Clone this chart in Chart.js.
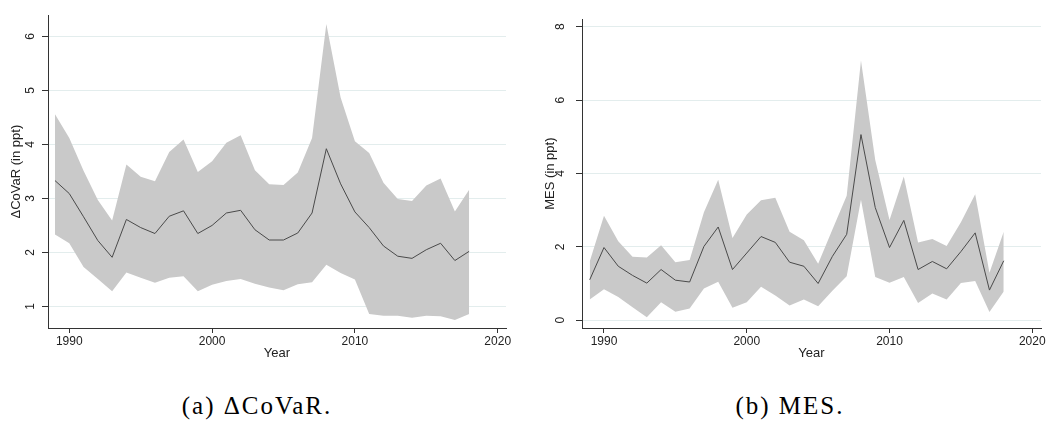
<!DOCTYPE html>
<html><head><meta charset="utf-8">
<script src="https://cdn.jsdelivr.net/npm/chart.js@4/dist/chart.umd.min.js"></script>
<style>
html,body{margin:0;padding:0;background:#fff;width:1047px;height:424px;overflow:hidden;position:relative;}
canvas{position:absolute;top:0;}
.cap{position:absolute;top:393px;width:300px;text-align:center;font-family:"Liberation Serif","DejaVu Serif",serif;font-size:25px;line-height:25px;letter-spacing:2px;white-space:nowrap;color:#000;}
</style></head><body>
<canvas id="a" width="523" height="365" style="left:0px"></canvas>
<canvas id="b" width="513" height="365" style="left:534px"></canvas>
<div class="cap" style="left:107px">(a) ΔCoVaR.</div>
<div class="cap" style="left:640px">(b) MES.</div>
<script>
const years = [1989,1990,1991,1992,1993,1994,1995,1996,1997,1998,1999,2000,2001,2002,2003,2004,2005,2006,2007,2008,2009,2010,2011,2012,2013,2014,2015,2016,2017,2018];

const covarMid   = [3.33,3.09,2.66,2.22,1.91,2.61,2.46,2.35,2.67,2.77,2.35,2.50,2.73,2.78,2.42,2.23,2.23,2.36,2.73,3.92,3.27,2.75,2.46,2.12,1.93,1.89,2.05,2.17,1.85,2.02];
const covarUpper = [4.56,4.12,3.51,2.97,2.59,3.63,3.40,3.32,3.86,4.09,3.49,3.69,4.03,4.17,3.52,3.26,3.25,3.48,4.12,6.23,4.87,4.06,3.84,3.29,2.99,2.95,3.24,3.37,2.76,3.16];
const covarLower = [2.33,2.17,1.73,1.51,1.28,1.63,1.53,1.44,1.53,1.56,1.28,1.40,1.47,1.51,1.42,1.35,1.30,1.41,1.45,1.77,1.62,1.50,0.86,0.83,0.83,0.79,0.83,0.82,0.75,0.86];

const mesMid   = [1.10,1.98,1.47,1.22,1.01,1.38,1.09,1.04,2.01,2.54,1.38,1.83,2.28,2.12,1.58,1.47,1.00,1.74,2.34,5.06,3.07,1.98,2.72,1.38,1.60,1.40,1.87,2.38,0.82,1.62];
const mesUpper = [1.60,2.85,2.15,1.73,1.71,2.04,1.58,1.64,2.94,3.83,2.24,2.88,3.27,3.34,2.41,2.18,1.54,2.47,3.39,7.08,4.37,2.73,3.92,2.12,2.21,2.02,2.67,3.43,1.29,2.41];
const mesLower = [0.56,0.84,0.63,0.35,0.08,0.49,0.23,0.32,0.86,1.05,0.34,0.49,0.91,0.67,0.40,0.56,0.38,0.80,1.20,3.28,1.18,1.02,1.18,0.47,0.73,0.56,1.01,1.07,0.22,0.78];

const xTicks = [1990,2000,2010,2020];
const covarYTicks = [1,2,3,4,5,6];
const mesYTicks = [0,2,4,6,8];

const SANS = 'Liberation Sans, Arial, Helvetica, sans-serif';

function pts(vals){ return years.map((y,i)=>({x:y, y:vals[i]})); }

function makeChart(id, mid, up, lo, yTicks, yTitle, cfg){
  return new Chart(document.getElementById(id), {
    type:'line',
    data:{datasets:[
      {data:pts(mid), borderColor:'#4a4a4a', borderWidth:1, pointRadius:0, fill:false, tension:0},
      {data:pts(up), borderColor:'rgba(0,0,0,0)', borderWidth:0, backgroundColor:'#c9c9c9', pointRadius:0, fill:'+1', tension:0},
      {data:pts(lo), borderColor:'rgba(0,0,0,0)', borderWidth:0, pointRadius:0, fill:false, tension:0}
    ]},
    options:{
      responsive:false, animation:false, events:[],
      layout:{padding:{top:13, right:cfg.padRight, left:0, bottom:0}},
      plugins:{legend:{display:false}, tooltip:{enabled:false}},
      scales:{
        x:{type:'linear', min:cfg.xMin, max:cfg.xMax,
          afterBuildTicks:s=>{ s.ticks = xTicks.map(v=>({value:v})); },
          afterFit:s=>{ s.height = 37; },
          ticks:{callback:v=>String(v), color:'#222', font:{family:SANS, size:12}, padding:1, maxRotation:0, minRotation:0, autoSkip:false},
          grid:{drawOnChartArea:false, tickLength:5, tickColor:'#333', lineWidth:1},
          border:{display:true, color:'#333', width:1},
          title:{display:true, text:'Year', color:'#222', font:{family:SANS, size:13}, padding:{top:0, bottom:4}}
        },
        y:{type:'linear', min:cfg.yMin, max:cfg.yMax,
          afterBuildTicks:s=>{ s.ticks = yTicks.map(v=>({value:v})); },
          afterFit:s=>{ s.width = 48; },
          ticks:{callback:v=>String(v), color:'#222', font:{family:SANS, size:12}, minRotation:90, maxRotation:90, crossAlign:'center', padding:cfg.yLabelPad, autoSkip:false},
          grid:{color:'#e3eded', tickColor:'#333', tickLength:6, lineWidth:1},
          border:{display:true, color:'#333', width:1},
          title:{display:true, text:yTitle, color:'#222', font:{family:SANS, size:13}, padding:{top:9, bottom:0}}
        }
      }
    }
  });
}

makeChart('a', covarMid, covarUpper, covarLower, covarYTicks, 'ΔCoVaR (in ppt)',
  {padRight:17, xMin:1988.51, xMax:2020.58, yMin:0.601, yMax:6.392, yLabelPad:8});
makeChart('b', mesMid, mesUpper, mesLower, mesYTicks, 'MES (in ppt)',
  {padRight:6, xMin:1988.46, xMax:2020.61, yMin:-0.214, yMax:8.206, yLabelPad:12});
</script>
</body></html>
